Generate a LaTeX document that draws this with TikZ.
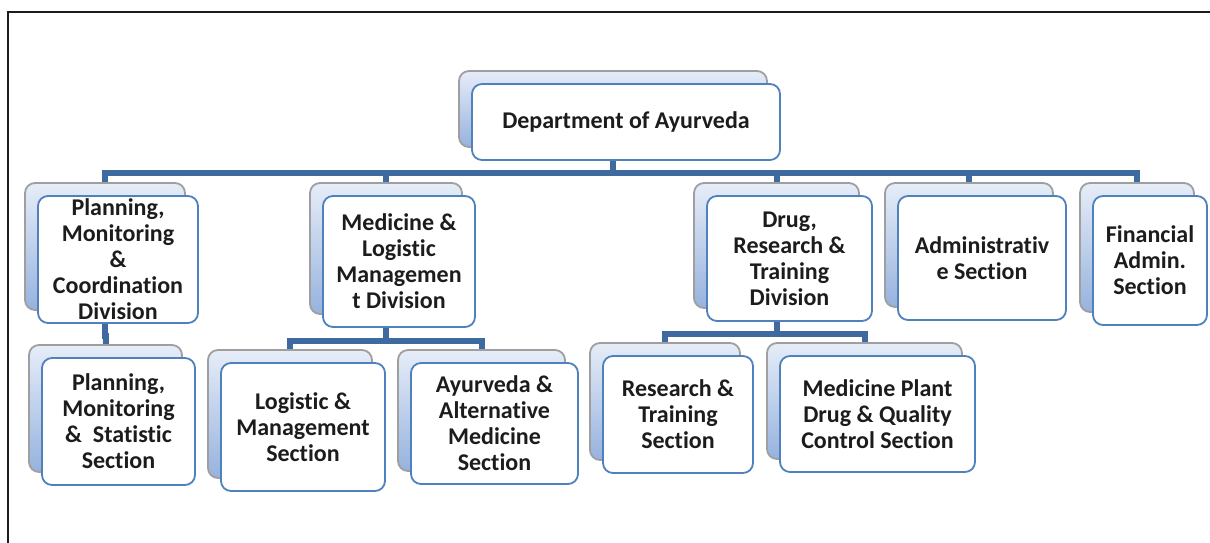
\documentclass[tikz,border=0pt]{standalone}
\usepackage{fontspec}
\setmainfont{Carlito}[Ligatures=NoCommon]
\usetikzlibrary{shadows,backgrounds}
\definecolor{boxblue}{RGB}{79,129,189}
\definecolor{linkblue}{RGB}{62,106,160}
\definecolor{shadetop}{RGB}{230,237,248}
\definecolor{shadebot}{RGB}{150,178,222}
\definecolor{inkgray}{RGB}{28,28,28}
\begin{document}
\begin{tikzpicture}[x=1pt, y=-1pt,
		unit/.style={rectangle, rounded corners=10pt, draw=boxblue, line width=1.8pt,
			fill=white, inner sep=0pt, align=center, text=inkgray,
			font=\fontsize{24}{26}\selectfont\bfseries,
			copy shadow={shadow xshift=-13pt, shadow yshift=13pt,
				top color=shadetop, bottom color=shadebot, draw=gray!75, line width=1.8pt}},
		link/.style={draw=linkblue, line width=6pt},
		frame/.style={draw=inkgray, line width=2pt}]

	\useasboundingbox (0,0) rectangle (1210,543);
	\draw[frame] (8,543) -- (8,12) -- (1210,12);

	\node[unit, minimum width=308, minimum height=76] (dept) at (626,122) {Department of Ayurveda};

	\node[unit, minimum width=160, minimum height=127] (pmc) at (118,259.5) {Planning,\\Monitoring\\\&\\Coordination\\Division};
	\node[unit, minimum width=152, minimum height=131] (med) at (399,261.5) {Medicine \&\\Logistic\\Managemen\\t Division};
	\node[unit, minimum width=165, minimum height=125] (drug) at (789.5,258.5) {Drug,\\Research \&\\Training\\Division};
	\node[unit, minimum width=168, minimum height=124] (adm) at (982,258) {Administrativ\\e Section};
	\node[unit, minimum width=114, minimum height=129] (fin) at (1150,260.5) {Financial\\Admin.\\Section};

	\node[unit, minimum width=153, minimum height=127] (pms) at (118.5,421.5) {Planning,\\Monitoring\\\& \ Statistic\\Section};
	\node[unit, minimum width=164, minimum height=128] (log) at (303,427) {Logistic \&\\Management\\Section};
	\node[unit, minimum width=167, minimum height=121] (ayu) at (494.5,423.5) {Ayurveda \&\\Alternative\\Medicine\\Section};
	\node[unit, minimum width=150, minimum height=117] (res) at (678,414.5) {Research \&\\Training\\Section};
	\node[unit, minimum width=195, minimum height=116] (mpl) at (877.5,414) {Medicine Plant\\Drug \& Quality\\Control Section};

	\begin{scope}[on background layer]
		\foreach \p/\c/\d in {dept/pmc/12, dept/med/12, dept/drug/12, dept/adm/12, dept/fin/12,
				pmc/pms/12, med/log/13, med/ayu/13, drug/res/12, drug/mpl/12}
			\draw[link] ([xshift=-13pt]\p.south) -- ++(0,\d) -| ([xshift=-13pt]\c.north);
	\end{scope}
\end{tikzpicture}
\end{document}
